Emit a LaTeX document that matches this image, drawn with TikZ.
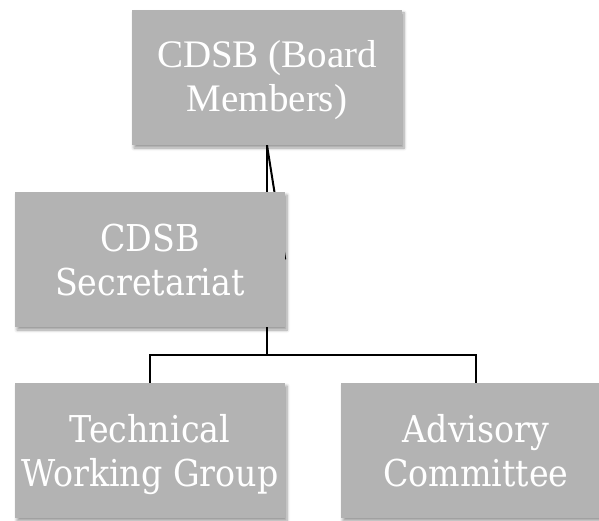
\documentclass[tikz,border=0pt]{standalone}
\usepackage{fontspec}
\setmainfont{Liberation Serif}
\newfontfamily\lowfont{DejaVu Serif Condensed}
\usetikzlibrary{shadows.blur,backgrounds}
\definecolor{boxgray}{HTML}{B3B3B3}
% struts keep both lines of a label on fixed baselines
\newcommand\firsttop{\rule{0pt}{36pt}}
\newcommand\firstsub{\rule{0pt}{38pt}}
\newcommand\lastline{\rule[-11pt]{0pt}{11pt}}
\tikzset{
  orgbox/.style={rectangle, fill=boxgray, draw=none, inner sep=0pt,
    minimum width=270pt, minimum height=135pt, text=white, align=center,
    blur shadow={shadow xshift=2pt, shadow yshift=-3pt, shadow blur steps=6,
      shadow blur radius=3pt, shadow opacity=40}},
  topfont/.style={font=\fontsize{39}{44}\selectfont},
  subfont/.style={font=\lowfont\fontsize{37}{44}\selectfont},
  link/.style={draw=black, line width=2pt}
}
\begin{document}
\begin{tikzpicture}[x=1pt, y=-1pt]
  \useasboundingbox (0,0) rectangle (599,521);
  \clip (0,0) rectangle (599,521);
  % boxes of the chart
  \node[orgbox, topfont] (board) at (267,77.5) {\firsttop CDSB (Board\\\lastline Members)};
  \node[orgbox, subfont] (sec) at (150,259.5) {\firstsub CDSB\\\lastline Secretariat};
  \node[orgbox, subfont] (twg) at (150,450.5) {\firstsub Technical\\\lastline Working Group};
  \node[orgbox, subfont] (adv) at (476,450.5) {\firstsub Advisory\\\lastline Committee};
  \coordinate (split) at (267,355);
  % connectors, drawn underneath the boxes
  \begin{scope}[on background layer]
    \draw[link] (board.south) -- (board.south |- sec.north);
    \draw[link] (board.south) -- (sec.east);
    \draw[link] (sec.south -| split) -- (split);
    \draw[link] (twg.north) -- (twg.north |- split) -- (adv.north |- split) -- (adv.north);
  \end{scope}
\end{tikzpicture}
\end{document}
